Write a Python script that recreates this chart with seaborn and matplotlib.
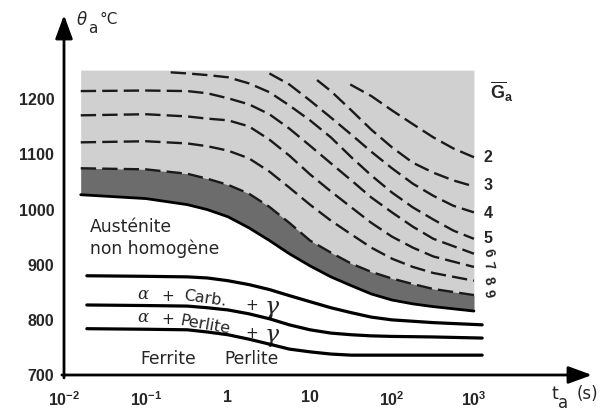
import matplotlib
matplotlib.use("Agg")
import numpy as np
import pandas as pd
import seaborn as sns
import matplotlib.pyplot as plt
from matplotlib.ticker import NullLocator

# ---------------- data ----------------
# common time grid for the austenite band (s)
t_grid = [0.016, 0.1, 0.32, 0.56, 1, 1.8, 3.2, 5.6, 10, 18, 32, 56, 100, 180, 320, 1000]
band_bottom = [1027, 1020, 1009, 1000, 987, 967, 944, 920, 898, 878, 862, 847, 836, 829, 824, 816]
curve_9 = [1075, 1073, 1065, 1056, 1045, 1029, 1005, 976, 944, 922, 902, 887, 875, 865, 856, 845]
curve_8 = [1122, 1124, 1120, 1115, 1107, 1093, 1069, 1040, 1009, 980, 955, 931, 911, 896, 885, 871]
curve_7 = [1171, 1173, 1169, 1165, 1162, 1151, 1127, 1098, 1064, 1033, 1004, 976, 951, 931, 915, 896]
curve_6 = [1215, 1216, 1215, 1211, 1202, 1191, 1173, 1147, 1116, 1084, 1053, 1022, 995, 969, 947, 920]

t_5 = [0.2, 0.32, 0.56, 1, 1.8, 3.2, 5.6, 10, 18, 32, 56, 100, 180, 320, 560, 1000]
curve_5 = [1249, 1247, 1244, 1240, 1229, 1213, 1189, 1162, 1131, 1095, 1062, 1031, 1004, 982, 962, 947]
t_4 = [3.2, 5.6, 10, 18, 32, 56, 100, 180, 320, 560, 1000]
curve_4 = [1247, 1227, 1198, 1167, 1136, 1105, 1075, 1047, 1025, 1007, 995]
t_3 = [12.2, 18, 32, 56, 100, 180, 320, 560, 1000]
curve_3 = [1235, 1215, 1180, 1145, 1113, 1085, 1067, 1053, 1042]
t_2 = [31, 56, 100, 180, 320, 560, 1000]
curve_2 = [1227, 1206, 1180, 1155, 1131, 1111, 1095]

grain_labels = ["2", "3", "4", "5", "6", "7", "8", "9"]
grain_label_T = [1095, 1044, 993, 947, 922, 898, 871, 847]

band_top_T = 1253

# transformation lines (solid)
t_solid = [0.019, 0.1, 0.32, 0.56, 1, 1.8, 3.2, 5.6, 10, 18, 32, 56, 100, 320, 1260]
line_A = [880, 879, 878, 876, 871, 864, 855, 844, 833, 822, 813, 805, 800, 795, 791]
line_B = [827, 826, 825, 822, 818, 811, 802, 791, 782, 776, 773, 771, 770, 769, 767]
line_C = [784, 783, 782, 778, 773, 765, 756, 747, 742, 738, 736, 736, 736, 736, 736]

x_ticks = [0.1, 1, 10, 100, 1000, 0.01]
x_tick_labels = [r"$10^{-1}$", "1", "10", r"$10^{2}$", r"$10^{3}$", r"$10^{-2}$"]
y_ticks = [700, 800, 900, 1000, 1100, 1200, 1300]
y_tick_labels = ["700", "800", "900", "1000", "1100", "1200", ""]

# ---------------- style ----------------
sns.set_style("white")
plt.rcParams["font.family"] = ["DejaVu Sans"]
plt.rcParams["mathtext.fontset"] = "custom"
plt.rcParams["mathtext.rm"] = "Liberation Sans:bold"
plt.rcParams["mathtext.it"] = "Liberation Sans:italic:bold"
plt.rcParams["mathtext.bf"] = "Liberation Sans:bold"

LIGHT = "#d0d0d0"
DARK = "#6c6c6c"
DASH = (0, (6.5, 2.6))

fig = plt.figure(figsize=(6.09, 4.17), dpi=100)
ax = fig.add_axes([64 / 609, 42 / 417, 528 / 609, 360 / 417])
ax.set_xscale("log")
ax.set_xlim(0.01, 10 ** 4.44)
ax.set_ylim(700, 1353)

# shaded regions
ax.fill_between(t_grid, band_bottom, [band_top_T] * len(t_grid), color=LIGHT, lw=0, zorder=1)
ax.fill_between(t_grid, band_bottom, curve_9, color=DARK, lw=0, zorder=2)

# solid lines
sns.lineplot(x=t_grid, y=band_bottom, ax=ax, color="black", lw=2.0, sort=False, estimator=None, zorder=4)
for ys in [line_A, line_B, line_C]:
    sns.lineplot(x=t_solid, y=ys, ax=ax, color="black", lw=2.3, sort=False, estimator=None, zorder=4)

# dashed grain-size curves
for ts, ys in [(t_grid, curve_9), (t_grid, curve_8), (t_grid, curve_7), (t_grid, curve_6),
               (t_5, curve_5), (t_4, curve_4), (t_3, curve_3), (t_2, curve_2)]:
    sns.lineplot(x=ts, y=ys, ax=ax, color="#1a1a1a", lw=1.7, linestyle=DASH,
                 sort=False, estimator=None, zorder=5)

# grain labels
for lab, T in zip(grain_labels, grain_label_T):
    small = lab in ("6", "7", "8", "9")
    ax.text(1480, T, lab, ha="center", va="center", fontsize=10 if small else 11.5,
            family="Liberation Sans", weight="bold", rotation=-75 if small else 0)
ax.text(2150, 1213, r"$\overline{\mathrm{G}}_{\mathrm{a}}$", ha="center", va="center", fontsize=13)

# axes decoration
for s in ax.spines.values():
    s.set_visible(False)
ax.annotate("", xy=(1, 0), xytext=(-0.004, 0), xycoords="axes fraction",
            arrowprops=dict(arrowstyle="-|>,head_length=0.9,head_width=0.33", lw=2,
                            color="black", mutation_scale=16, shrinkA=0, shrinkB=0))
ax.annotate("", xy=(0, 1), xytext=(0, -0.008), xycoords="axes fraction",
            arrowprops=dict(arrowstyle="-|>,head_length=0.9,head_width=0.33", lw=2,
                            color="black", mutation_scale=16, shrinkA=0, shrinkB=0))

ax.xaxis.set_minor_locator(NullLocator())
ax.set_xticks(x_ticks)
ax.set_xticklabels(x_tick_labels)
ax.set_yticks(y_ticks)
ax.set_yticklabels(y_tick_labels)
ax.tick_params(axis="x", direction="inout", length=10, width=2, pad=6, labelsize=11.5)
ax.tick_params(axis="y", direction="out", length=5, width=2, pad=2, labelsize=11.5)
for lab in ax.get_yticklabels() + ax.get_xticklabels():
    lab.set_family("Liberation Sans")
    lab.set_weight("bold")
ax.grid(False)

# axis titles
ax.text(0.0166, 1344, "θ", ha="center", va="center", fontsize=12, style="italic")
ax.text(0.0226, 1329, "a", ha="center", va="center", fontsize=11)
ax.text(0.0355, 1344, "°C", ha="center", va="center", fontsize=11)
ax.text(9730, 665, "t", ha="center", va="center", fontsize=12.5)
ax.text(12300, 650, "a", ha="center", va="center", fontsize=12)
ax.text(24000, 665, "(s)", ha="center", va="center", fontsize=12)

# region labels
ax.text(0.0207, 948, "Austénite\nnon homogène", ha="left", va="center", fontsize=12.3, linespacing=1.25)
ax.text(0.185, 729, "Ferrite", ha="center", va="center", fontsize=12.3)
ax.text(1.96, 729, "Perlite", ha="center", va="center", fontsize=12.3)

ax.text(0.092, 846, "α", ha="center", va="center", fontsize=12, style="italic", family="DejaVu Serif")
ax.text(0.185, 843, "+", ha="center", va="center", fontsize=11)
ax.text(0.53, 838, "Carb.", ha="center", va="center", fontsize=11.5, rotation=-8)
ax.text(1.96, 826, "+", ha="center", va="center", fontsize=11)
ax.text(3.44, 822, "γ", ha="center", va="center", fontsize=17, style="italic", family="DejaVu Serif")

ax.text(0.092, 804, "α", ha="center", va="center", fontsize=12, style="italic", family="DejaVu Serif")
ax.text(0.185, 800, "+", ha="center", va="center", fontsize=11)
ax.text(0.53, 791, "Perlite", ha="center", va="center", fontsize=11.5, rotation=-10)
ax.text(1.96, 776, "+", ha="center", va="center", fontsize=11)
ax.text(3.44, 772, "γ", ha="center", va="center", fontsize=17, style="italic", family="DejaVu Serif")

fig.savefig("out.png", dpi=100)
